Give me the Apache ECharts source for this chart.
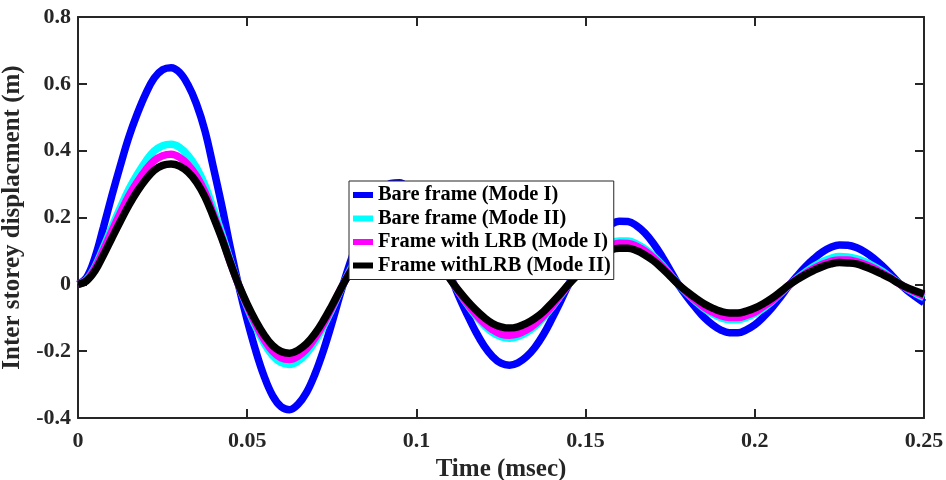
<!DOCTYPE html>
<html>
<head>
<meta charset="utf-8">
<script src="https://cdn.jsdelivr.net/npm/echarts@6/dist/echarts.min.js"></script>
<style>html,body{margin:0;padding:0;background:#fff;}#chart{width:946px;height:480px;}</style>
</head>
<body>
<div id="chart"></div>
<script>
const timeMs = [0,0.0025,0.005,0.0075,0.01,0.0125,0.015,0.0175,0.02,0.0225,0.025,0.0275,0.03,0.0325,0.035,0.0375,0.04,0.0425,0.045,0.0475,
  0.05,0.0525,0.055,0.0575,0.06,0.0625,0.065,0.0675,0.07,0.0725,0.075,0.0775,
  0.08,0.0825,0.085,0.0875,0.09,0.0925,0.095,0.0975,0.1,0.1025,0.105,0.1075,0.11,
  0.1125,0.115,0.1175,0.12,0.1225,0.125,0.1275,0.13,0.1325,0.135,0.1375,0.14,0.1425,0.145,
  0.1475,0.15,0.1525,0.155,0.1575,0.16,0.1625,0.165,0.1675,0.17,0.1725,0.175,0.1775,
  0.18,0.1825,0.185,0.1875,0.19,0.1925,0.195,0.1975,0.2,0.2025,0.205,0.2075,0.21,
  0.2125,0.215,0.2175,0.22,0.2225,0.225,0.2275,0.23,0.2325,0.235,0.2375,0.24,0.2425,
  0.245,0.2475,0.25];

const bareModeI = [0,0.02,0.08,0.17,0.265,0.355,0.44,0.51,0.57,0.617,0.642,0.648,0.634,0.597,0.54,0.46,0.35,0.235,0.11,-0.005,
  -0.107,-0.198,-0.275,-0.333,-0.366,-0.375,-0.359,-0.324,-0.269,-0.199,-0.117,-0.029,
  0.052,0.124,0.19,0.243,0.281,0.302,0.304,0.289,0.259,0.216,0.161,0.097,0.028,
  -0.035,-0.09,-0.141,-0.184,-0.216,-0.236,-0.242,-0.235,-0.217,-0.189,-0.151,-0.104,-0.053,0.0,
  0.046,0.089,0.128,0.158,0.179,0.189,0.188,0.176,0.154,0.123,0.085,0.042,-0.002,
  -0.038,-0.07,-0.099,-0.121,-0.137,-0.145,-0.145,-0.136,-0.121,-0.098,-0.071,-0.039,-0.005,
  0.025,0.053,0.077,0.097,0.111,0.118,0.117,0.11,0.097,0.079,0.057,0.032,0.005,
  -0.018,-0.037,-0.055];

const bareModeII = [0,0.013,0.052,0.11,0.171,0.229,0.284,0.329,0.368,0.399,0.415,0.419,0.41,0.386,0.349,0.297,0.226,0.152,0.071,-0.003,
  -0.068,-0.127,-0.176,-0.213,-0.234,-0.24,-0.23,-0.207,-0.172,-0.127,-0.075,-0.019,
  0.034,0.082,0.125,0.16,0.185,0.199,0.201,0.191,0.171,0.143,0.106,0.064,0.018,
  -0.023,-0.06,-0.094,-0.122,-0.144,-0.157,-0.161,-0.156,-0.144,-0.126,-0.1,-0.069,-0.035,0.0,
  0.032,0.061,0.088,0.109,0.124,0.13,0.13,0.121,0.106,0.085,0.059,0.029,-0.001,
  -0.028,-0.051,-0.072,-0.088,-0.1,-0.106,-0.106,-0.099,-0.088,-0.072,-0.052,-0.028,-0.004,
  0.018,0.037,0.054,0.068,0.078,0.083,0.082,0.077,0.068,0.055,0.04,0.022,0.004,
  -0.013,-0.027,-0.04];

const lrbModeI = [0,0.012,0.048,0.102,0.159,0.213,0.264,0.306,0.342,0.37,0.385,0.389,0.38,0.358,0.324,0.276,0.21,0.141,0.066,-0.003,
  -0.064,-0.119,-0.165,-0.2,-0.22,-0.225,-0.215,-0.194,-0.161,-0.119,-0.07,-0.017,
  0.031,0.074,0.114,0.146,0.169,0.181,0.182,0.173,0.155,0.13,0.097,0.058,0.017,
  -0.022,-0.057,-0.089,-0.116,-0.136,-0.149,-0.152,-0.148,-0.137,-0.119,-0.095,-0.066,-0.033,0.0,
  0.03,0.058,0.083,0.103,0.116,0.123,0.122,0.114,0.1,0.08,0.055,0.027,-0.001,
  -0.026,-0.048,-0.068,-0.083,-0.094,-0.099,-0.099,-0.093,-0.083,-0.067,-0.049,-0.027,-0.003,
  0.016,0.033,0.048,0.06,0.069,0.073,0.073,0.068,0.06,0.049,0.035,0.02,0.003,
  -0.012,-0.024,-0.035];

const lrbModeII = [0,0.01,0.04,0.087,0.138,0.188,0.236,0.278,0.313,0.341,0.356,0.36,0.354,0.336,0.306,0.262,0.202,0.137,0.065,-0.002,
  -0.059,-0.109,-0.151,-0.183,-0.201,-0.206,-0.197,-0.178,-0.148,-0.109,-0.064,-0.016,
  0.029,0.068,0.105,0.134,0.155,0.166,0.167,0.159,0.142,0.119,0.089,0.053,0.015,
  -0.019,-0.049,-0.076,-0.099,-0.117,-0.127,-0.131,-0.127,-0.117,-0.102,-0.082,-0.056,-0.029,0.0,
  0.026,0.051,0.073,0.091,0.103,0.108,0.108,0.101,0.088,0.071,0.049,0.024,-0.001,
  -0.022,-0.041,-0.058,-0.071,-0.081,-0.086,-0.086,-0.08,-0.071,-0.058,-0.042,-0.023,-0.003,
  0.014,0.029,0.042,0.053,0.061,0.065,0.064,0.061,0.053,0.043,0.031,0.018,0.003,
  -0.01,-0.02,-0.03];

const seriesNames = ['Bare frame (Mode I)','Bare frame (Mode II)','Frame with LRB (Mode I)','Frame withLRB (Mode II)'];
const seriesColors = ['#0000ff','#00ffff','#ff00ff','#000000'];
const seriesValues = [bareModeI, bareModeII, lrbModeI, lrbModeII];

const xTitle = 'Time (msec)';
const yTitle = 'Inter storey displacment (m)';

const FONT = '"Liberation Serif","Times New Roman",serif';
const AX = '#262626';

const chart = echarts.init(document.getElementById('chart'), null, {renderer:'canvas'});

const series = seriesValues.map((vals, k) => ({
  name: seriesNames[k],
  type: 'line',
  xAxisIndex: 0,
  yAxisIndex: 0,
  data: timeMs.map((t, i) => [t, vals[i]]),
  smooth: 0.4,
  showSymbol: false,
  symbol: 'none',
  animation: false,
  lineStyle: {color: seriesColors[k], width: 7.5},
  itemStyle: {color: seriesColors[k]},
  z: 2 + k
}));

const axisCommonX = {
  type: 'value', min: 0, max: 0.25, interval: 0.05,
  splitLine: {show: false},
  axisLine: {show: true, onZero: false, lineStyle: {color: AX, width: 2}},
  axisTick: {show: true, inside: true, length: 9, lineStyle: {color: AX, width: 2}}
};
const axisCommonY = {
  type: 'value', min: -0.4, max: 0.8, interval: 0.2,
  splitLine: {show: false},
  axisLine: {show: true, onZero: false, lineStyle: {color: AX, width: 2}},
  axisTick: {show: true, inside: true, length: 9, lineStyle: {color: AX, width: 2}}
};

chart.setOption({
  animation: false,
  backgroundColor: '#ffffff',
  grid: {left: 78, right: 22, top: 17, bottom: 62, containLabel: false, outerBoundsMode: 'none'},
  legend: {
    show: true,
    z: 20,
    orient: 'vertical',
    left: 349, top: 181,
    data: seriesNames,
    icon: 'rect',
    itemWidth: 20, itemHeight: 6,
    itemGap: 3.5,
    padding: [4, 3, 4, 4],
    backgroundColor: '#ffffff',
    borderColor: AX, borderWidth: 1,
    textStyle: {fontFamily: FONT, fontWeight: 'bold', fontSize: 20.4, lineHeight: 20, color: '#000000'},
    selectedMode: false
  },
  xAxis: [
    Object.assign({}, axisCommonX, {
      position: 'bottom',
      name: xTitle, nameLocation: 'middle', nameGap: 35,
      nameTextStyle: {fontFamily: FONT, fontWeight: 'bold', fontSize: 25, color: AX},
      axisLabel: {show: true, margin: 12, fontFamily: FONT, fontWeight: 'bold', fontSize: 22, color: AX}
    }),
    Object.assign({}, axisCommonX, {position: 'top', axisLabel: {show: false}})
  ],
  yAxis: [
    Object.assign({}, axisCommonY, {
      position: 'left',
      name: yTitle, nameLocation: 'middle', nameGap: 41,
      nameTextStyle: {fontFamily: FONT, fontWeight: 'bold', fontSize: 25, color: AX},
      axisLabel: {show: true, margin: 7, fontFamily: FONT, fontWeight: 'bold', fontSize: 22, color: AX}
    }),
    Object.assign({}, axisCommonY, {position: 'right', axisLabel: {show: false}})
  ],
  series: series
});
</script>
</body>
</html>
